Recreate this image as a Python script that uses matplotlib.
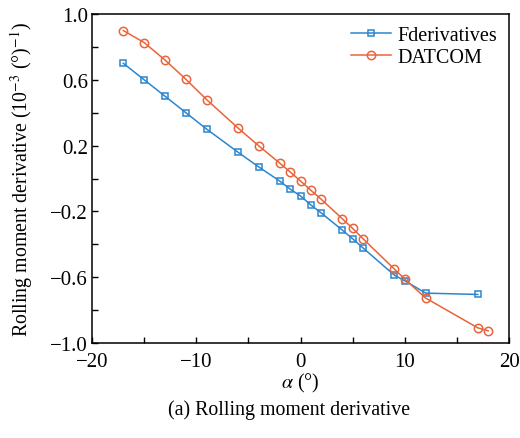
import matplotlib
matplotlib.use("Agg")
from matplotlib import pyplot as plt
from matplotlib.ticker import MultipleLocator

# angle of attack (deg)
alphaF = [-17, -15, -13, -11, -9, -6, -4, -2, -1, 0, 1, 2, 4, 5, 6, 9, 10, 12, 17]
fderiv = [0.70, 0.60, 0.50, 0.40, 0.30, 0.16, 0.07, -0.015, -0.064, -0.106,
          -0.161, -0.21, -0.313, -0.366, -0.422, -0.587, -0.621, -0.696, -0.704]

alphaD = [-17, -15, -13, -11, -9, -6, -4, -2, -1, 0, 1, 2, 4, 5, 6, 9, 10, 12, 17, 18]
datcom = [0.899, 0.826, 0.72, 0.603, 0.479, 0.307, 0.198, 0.094, 0.04, -0.015,
          -0.072, -0.127, -0.244, -0.303, -0.366, -0.55, -0.611, -0.726, -0.907, -0.925]

yticks = [1.0, 0.6, 0.2, -0.2, -0.6, -1.0]
ylabels = ['1.0', '0.6', '0.2', '\u22120.2', '\u22120.6', '\u22121.0']

plt.rcParams['font.family'] = ['Liberation Serif', 'DejaVu Serif']
plt.rcParams['mathtext.fontset'] = 'stix'

fig = plt.figure(figsize=(5.2, 4.39), dpi=100)
ax = fig.add_axes([0.177, 0.216, 0.802, 0.75])

blue = '#2a86d0'
orange = '#e8643a'
ax.plot(alphaF, fderiv, '-s', color=blue, lw=1.1, ms=4.4, mfc='none', mew=1.1,
        label='Fderivatives')
ax.plot(alphaD, datcom, '-o', color=orange, lw=1.1, ms=6.0, mfc='none', mew=1.1,
        label='DATCOM')

ax.set_xlim(-20, 20)
ax.set_ylim(-1.0, 1.0)
ax.xaxis.set_major_locator(MultipleLocator(10))
ax.xaxis.set_minor_locator(MultipleLocator(5))
ax.yaxis.set_minor_locator(MultipleLocator(0.2))
ax.set_yticks(yticks)
ax.set_yticklabels(ylabels)
ax.tick_params(which='both', direction='in', labelsize=15, top=False, right=False,
               length=4.5, width=1.0)
ax.tick_params(axis='x', pad=6)
ax.tick_params(axis='y', pad=3)
for s in ax.spines.values():
    s.set_linewidth(1.1)

ax.set_xlabel(r'$\alpha$ (°)', fontsize=14.5, va='center')
ax.xaxis.set_label_coords(0.5, -0.118)
ax.set_ylabel(r'Rolling moment derivative (10$^{-3}$ (°)$^{-1}$)', fontsize=14.3, va='center')
ax.yaxis.set_label_coords(-0.168, 0.5)
ax.legend(loc='upper right', frameon=False, fontsize=14.5, handlelength=2.0,
          borderaxespad=0.2, labelspacing=0.15, handletextpad=0.3)

fig.text(0.555, 0.066, '(a) Rolling moment derivative', ha='center', va='center',
         fontsize=14.3)

fig.savefig('out.png', dpi=100)
